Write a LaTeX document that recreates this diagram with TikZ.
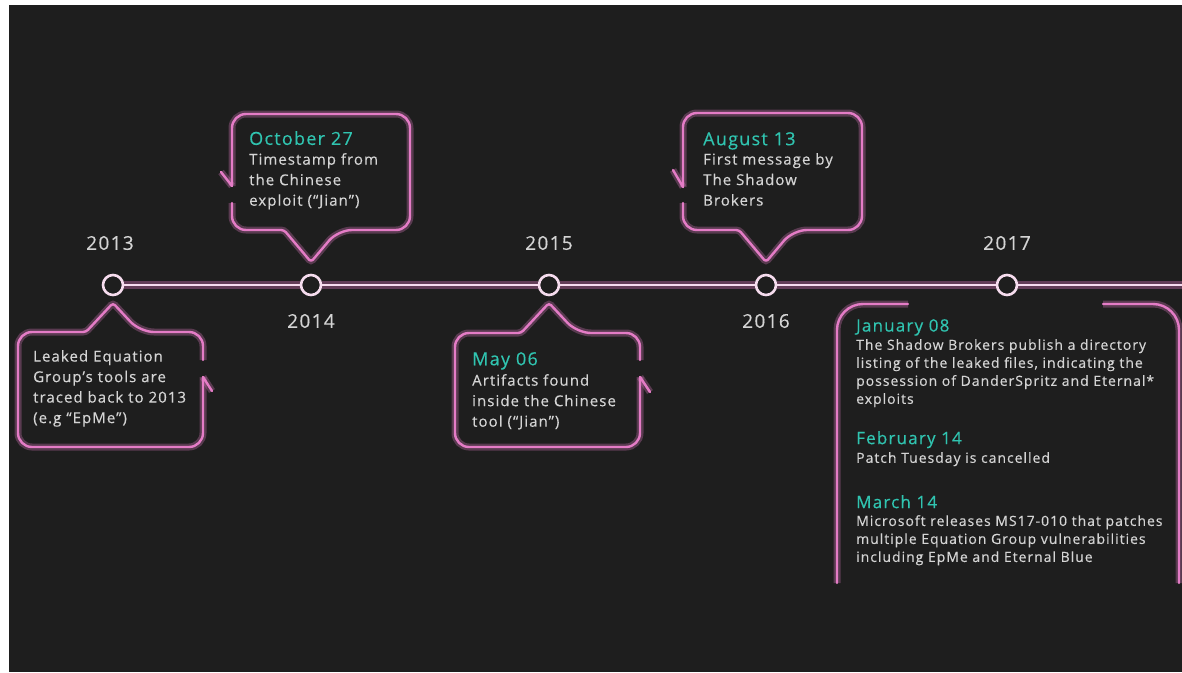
\documentclass[tikz,border=0pt]{standalone}
\usepackage{fontspec}
\setmainfont{Open Sans}[LetterSpace=7,FakeBold=0.35]
\usetikzlibrary{positioning}
\definecolor{bgcol}{HTML}{1E1E1E}
\definecolor{pcol}{HTML}{E47CC6}
\definecolor{lcol}{HTML}{F6DCEE}
\definecolor{tcol}{HTML}{30C4B0}
\definecolor{gcol}{HTML}{D4D4D4}
\tikzset{neon/.style={pcol,line width=2.4,line cap=round,line join=round,preaction={draw,pcol,opacity=.3,line width=7}}}
\tikzset{tline/.style={lcol,line width=2.6,preaction={draw,pcol,opacity=.35,line width=8}}}
\tikzset{dot/.style={circle,draw=lcol,fill=bgcol,line width=2.6,minimum size=20,inner sep=0}}
\tikzset{year/.style={gcol,font=\fontsize{19}{19}\selectfont}}
\tikzset{date/.style={tcol,anchor=north west,inner sep=0,font=\fontsize{18}{18}\selectfont}}
\tikzset{txt/.style={gcol,anchor=north west,inner sep=0,align=left,font=\fontsize{15}{20.5}\selectfont}}
\tikzset{small/.style={font=\fontsize{14}{18}\selectfont}}

\begin{document}
\begin{tikzpicture}[x=1pt,y=-1pt]
\useasboundingbox (0,0) rectangle (1182,672);
\fill[white] (0,0) rectangle (1182,672);
\fill[bgcol] (9,5) rectangle (1182,672);

\node [dot] (c13) at (113,285) {};
\node [dot] (c14) at (311,285) {};
\node [dot] (c15) at (549,285) {};
\node [dot] (c16) at (766,285) {};
\node [dot] (c17) at (1007,285) {};
\coordinate (tend) at (1184,285);

\draw [tline] (c13) -- (c14);
\draw [tline] (c14) -- (c15);
\draw [tline] (c15) -- (c16);
\draw [tline] (c16) -- (c17);
\draw [tline] (c17) -- (tend);

\node [year] (y13) at (110,243) {2013};
\node [year] (y14) at (311,321) {2014};
\node [year] (y15) at (549,243) {2015};
\node [year] (y16) at (766,321) {2016};
\node [year] (y17) at (1007,243) {2017};


\draw [neon,rounded corners=14] (203,360) -- (203,332) -- (140,332) [rounded corners=3] -- (113,303) -- (86,332) [rounded corners=14] -- (18,332) -- (18,447) -- (203,447) -- (203,377);
\draw [neon] (203,377) -- (212,391);

\draw [neon,rounded corners=14] (232,186) -- (232,114) -- (410,114) -- (410,230) -- (338,230) [rounded corners=3] -- (311,262) -- (284,230) [rounded corners=14] -- (232,230) -- (232,203);
\draw [neon] (232,186) -- (221,172);

\draw [neon,rounded corners=14] (640,360) -- (640,333) -- (577,333) [rounded corners=3] -- (549,303) -- (521,333) [rounded corners=14] -- (455,333) -- (455,447) -- (640,447) -- (640,377);
\draw [neon] (640,377) -- (650,392);

\draw [neon,rounded corners=14] (683,187) -- (683,113) -- (862,113) -- (862,230) -- (793,230) [rounded corners=3] -- (766,262) -- (739,230) [rounded corners=14] -- (683,230) -- (683,203);
\draw [neon] (683,187) -- (673,170);

\draw [neon,rounded corners=26] (908,304) -- (837,304) -- (837,583);
\draw [neon,rounded corners=26] (1103,304) -- (1179,304) -- (1179,583);


\node [txt] (t13) at (33,350) {Leaked Equation\\Group’s tools are\\traced back to 2013\\(e.g “EpMe”)};

\node [date] (d14) at (249,131) {October 27};
\node [txt] (t14) at (249,153) {Timestamp from\\the Chinese\\exploit (“Jian”)};

\node [date] (d15) at (472,352) {May 06};
\node [txt] (t15) at (472,374) {Artifacts found\\inside the Chinese\\tool (“Jian”)};

\node [date] (d16) at (703,132) {August 13};
\node [txt] (t16) at (703,153) {First message by\\The Shadow\\Brokers};

\node [date,font=\fontsize{17}{17}\selectfont] (d17a) at (856,319) {January 08};
\node [txt,small] (t17a) at (856,339) {The Shadow Brokers publish a directory\\listing of the leaked files, indicating the\\possession of DanderSpritz and Eternal*\\exploits};
\node [date,font=\fontsize{17}{17}\selectfont] (d17b) at (856,431) {February 14};
\node [txt,small] (t17b) at (856,452) {Patch Tuesday is cancelled};
\node [date,font=\fontsize{17}{17}\selectfont] (d17c) at (856,495) {March 14};
\node [txt,small] (t17c) at (856,515) {Microsoft releases MS17-010 that patches\\multiple Equation Group vulnerabilities\\including EpMe and Eternal Blue};
\end{tikzpicture}
\end{document}
